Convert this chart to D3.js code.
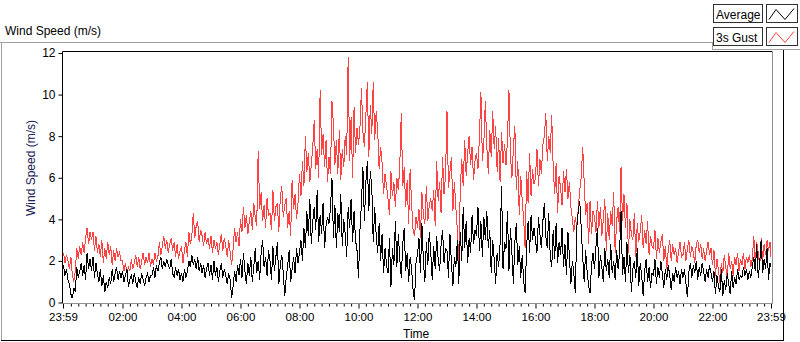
<!DOCTYPE html>
<html>
<head>
<meta charset="utf-8">
<script src="https://cdn.jsdelivr.net/npm/d3@7"></script>
<style>
  html, body { margin: 0; padding: 0; background: #fff; }
  svg text { font-family: "Liberation Sans", Arial, sans-serif; }
</style>
</head>
<body>
<div id="chart"></div>
<script>
// minutes since midnight of each sample (3 min steps, last one at 23:59)
const minutes = d3.range(0, 1440, 3).concat([1439]);

// 3s gust (m/s), one row per hour
const gust = [
  2.4, 1.9, 2.3, 2.0, 1.6, 2.2, 1.3, 1.0, 1.5, 2.6, 2.1, 2.7, 2.3, 2.9, 2.4, 3.1, 3.6, 2.8, 3.4, 3.0,
  3.4, 2.5, 3.2, 2.4, 2.8, 2.2, 3.0, 1.9, 2.6, 2.1, 2.9, 2.3, 2.7, 1.8, 2.5, 2.0, 2.6, 2.2, 2.4, 2.0,
  2.0, 1.5, 1.9, 1.4, 1.7, 1.5, 2.1, 1.6, 1.9, 2.3, 1.7, 2.2, 1.6, 2.0, 2.4, 1.8, 2.2, 1.9, 2.4, 1.7,
  2.1, 1.8, 2.4, 2.0, 2.2, 2.9, 2.3, 2.7, 3.2, 2.6, 3.0, 2.4, 2.8, 3.1, 2.5, 2.9, 2.2, 2.8, 2.1, 2.5,
  2.7, 1.9, 2.5, 2.9, 2.2, 3.4, 2.8, 3.2, 4.3, 3.1, 3.7, 3.9, 2.9, 3.5, 3.2, 2.7, 3.4, 2.8, 3.1, 2.6,
  3.2, 2.4, 3.0, 2.6, 2.9, 2.3, 2.8, 3.3, 2.5, 3.1, 2.7, 2.2, 3.0, 2.4, 1.8, 2.6, 3.6, 2.9, 3.4, 2.7,
  4.0, 3.4, 4.6, 3.6, 4.2, 3.3, 3.9, 4.4, 3.5, 4.8, 4.1, 3.7, 7.3, 4.5, 5.3, 3.9, 4.7, 3.6, 5.0, 4.2,
  4.3, 3.5, 5.4, 3.9, 4.6, 4.8, 3.4, 5.1, 5.6, 4.1, 4.7, 5.0, 3.6, 4.4, 3.2, 5.9, 4.5, 5.2, 4.0, 4.8,
  6.2, 5.1, 6.8, 5.6, 8.0, 6.3, 7.2, 5.8, 6.6, 7.5, 8.8, 6.4, 7.4, 6.0, 10.2, 7.1, 8.1, 6.5, 7.8, 5.8,
  7.0, 6.2, 9.7, 8.6, 6.6, 7.8, 6.2, 8.3, 5.9, 7.4, 6.5, 8.0, 7.1, 11.8, 6.8, 8.9, 6.0, 9.4, 7.2, 8.4,
  7.6, 8.4, 10.3, 8.2, 7.5, 9.0, 10.6, 7.0, 9.5, 8.1, 10.6, 7.8, 9.2, 8.3, 6.4, 7.5, 6.7, 5.2, 6.2, 5.6,
  5.0, 4.2, 6.3, 5.1, 5.8, 4.6, 6.0, 5.4, 6.6, 9.1, 5.6, 6.5, 4.6, 5.9, 3.8, 6.4, 4.8, 3.5, 3.2, 4.1,
  3.6, 4.5, 3.1, 5.3, 4.2, 3.8, 5.6, 3.9, 4.7, 5.0, 4.4, 5.4, 3.7, 6.8, 4.9, 5.8, 4.3, 7.0, 5.2, 6.1,
  9.2, 5.5, 6.3, 7.0, 4.4, 5.8, 4.6, 3.5, 2.0, 5.4, 6.9, 5.6, 7.8, 6.1, 7.2, 8.0, 6.6, 7.5, 5.9, 6.8,
  7.2, 6.4, 8.0, 10.1, 6.8, 7.7, 9.7, 7.5, 6.2, 8.3, 7.0, 9.2, 7.4, 8.5, 6.3, 7.9, 5.8, 8.2, 6.7, 7.6,
  6.6, 7.8, 10.2, 7.1, 6.0, 7.4, 8.5, 5.4, 6.8, 4.2, 6.1, 4.9, 4.0, 2.6, 6.3, 4.8, 7.2, 5.1, 6.4, 5.7,
  6.0, 7.4, 5.6, 6.9, 6.2, 7.6, 8.0, 9.1, 6.8, 8.0, 7.2, 9.0, 6.5, 5.2, 6.7, 4.3, 6.1, 5.5, 4.7, 6.3,
  5.3, 6.4, 5.0, 5.8, 4.6, 4.0, 3.4, 4.1, 3.6, 4.5, 5.4, 6.0, 7.5, 5.8, 4.2, 4.8, 2.8, 4.9, 3.3, 4.4,
  4.1, 3.4, 4.9, 3.6, 4.6, 3.2, 4.0, 5.0, 2.5, 4.3, 3.0, 4.4, 3.7, 5.3, 2.4, 3.9, 4.6, 3.4, 6.5, 3.9,
  5.2, 3.6, 4.8, 2.4, 4.0, 3.3, 3.0, 4.3, 2.2, 3.8, 2.9, 3.4, 4.2, 2.6, 3.5, 2.8, 3.9, 2.3, 3.2, 2.7,
  2.6, 3.5, 2.1, 3.1, 2.4, 2.9, 3.3, 2.0, 2.7, 1.6, 2.5, 3.0, 2.0, 2.8, 2.3, 2.6, 1.9, 2.4, 2.9, 2.2,
  2.3, 2.9, 2.0, 2.6, 3.0, 2.2, 2.7, 2.4, 1.9, 2.8, 3.0, 2.4, 2.8, 2.1, 2.6, 2.0, 2.5, 2.9, 2.3, 2.6,
  1.8, 2.5, 1.3, 2.1, 1.6, 0.95, 1.9, 1.4, 2.3, 1.7, 1.2, 2.4, 1.6, 2.0, 1.3, 2.2, 1.8, 2.4, 1.5, 2.1,
  1.8, 2.4, 1.6, 2.2, 1.9, 2.3, 1.7, 2.1, 3.2, 1.9, 2.9, 2.4, 1.7, 3.1, 2.0, 2.8, 2.3, 3.0, 2.5, 2.9,
  2.2
];

// average (m/s), one row per hour
const average = [
  1.8, 1.3, 1.6, 1.1, 0.9, 0.4, 0.2, 0.7, 0.5, 1.7, 1.2, 1.5, 1.9, 1.3, 1.8, 1.1, 2.4, 1.6, 2.1, 1.5,
  2.2, 1.2, 1.9, 1.4, 1.0, 1.6, 0.8, 1.3, 0.5, 1.0, 0.7, 1.2, 0.9, 1.6, 1.0, 1.4, 1.7, 1.1, 1.5, 1.2,
  1.5, 1.0, 1.3, 1.6, 0.75, 1.1, 1.3, 0.9, 1.4, 1.0, 0.7, 1.2, 0.9, 1.4, 1.1, 0.8, 1.2, 1.4, 1.0, 1.3,
  1.3, 1.7, 1.2, 1.8, 1.5, 1.9, 2.2, 1.6, 2.0, 1.7, 2.1, 1.8, 1.6, 2.1, 1.4, 1.2, 1.7, 1.3, 1.6, 1.1,
  1.4, 1.0, 1.6, 1.2, 1.5, 2.0, 1.7, 2.3, 1.8, 2.1, 1.6, 2.2, 1.5, 1.9, 1.4, 1.8, 1.2, 1.6, 1.9, 1.3,
  1.8, 1.1, 2.0, 1.3, 1.7, 1.0, 1.5, 1.9, 1.2, 1.6, 1.3, 0.9, 1.4, 1.1, 0.2, 0.8, 1.5, 1.0, 1.8, 1.3,
  2.1, 1.2, 2.4, 1.5, 0.9, 1.9, 1.3, 2.2, 1.0, 1.7, 2.6, 1.4, 2.0, 1.1, 2.4, 3.0, 1.7, 2.2, 1.3, 2.5,
  2.0, 1.1, 2.7, 1.5, 2.2, 2.9, 0.9, 1.8, 2.3, 1.4, 0.3, 1.2, 1.8, 2.5, 1.0, 1.6, 2.2, 1.4, 2.6, 1.9,
  2.4, 3.0, 2.0, 3.6, 2.6, 4.4, 3.2, 5.0, 2.8, 3.9, 4.6, 3.5, 5.4, 2.9, 4.2, 3.3, 4.8, 2.6, 3.7, 4.1,
  3.8, 4.5, 6.0, 3.1, 4.7, 2.6, 4.3, 3.4, 5.2, 2.7, 4.0, 3.3, 2.2, 4.6, 3.6, 5.0, 2.9, 4.4, 3.0, 2.5,
  1.2, 3.5, 4.8, 6.5, 3.9, 5.8, 6.8, 4.4, 6.3, 5.6, 2.9, 4.6, 3.2, 2.4, 3.8, 2.0, 3.3, 1.4, 2.6, 1.8,
  1.4, 3.1, 0.75, 2.6, 1.8, 3.9, 1.7, 3.3, 2.1, 1.2, 2.8, 3.6, 1.5, 2.4, 1.0, 2.2, 1.6, 0.6, 0.1, 1.9,
  2.3, 3.1, 1.4, 3.8, 2.0, 1.0, 2.9, 1.8, 3.4, 2.4, 1.1, 2.7, 1.6, 3.2, 2.1, 1.5, 2.8, 3.5, 1.9, 2.6,
  2.5, 1.2, 3.3, 1.9, 0.8, 2.2, 1.7, 3.0, 0.9, 3.4, 2.0, 4.6, 2.6, 3.9, 1.9, 3.1, 2.4, 4.2, 2.8, 3.5,
  3.2, 4.6, 2.5, 3.9, 2.2, 4.1, 3.0, 4.4, 2.6, 3.5, 1.4, 3.0, 2.1, 0.9, 2.4, 1.7, 2.8, 5.6, 1.6, 2.9,
  2.6, 4.4, 1.5, 3.6, 2.4, 0.9, 2.9, 3.8, 1.8, 2.7, 1.2, 2.3, 1.0, 0.45, 2.7, 3.9, 2.4, 4.2, 3.0, 3.6,
  3.0, 2.4, 4.1, 3.3, 2.6, 3.9, 4.8, 3.2, 2.6, 4.3, 2.2, 1.7, 3.5, 2.1, 3.8, 1.9, 2.9, 2.3, 3.6, 1.7,
  2.8, 1.3, 3.4, 2.2, 0.9, 2.0, 1.4, 0.45, 3.6, 4.4, 4.9, 3.6, 2.2, 1.0, 2.5, 1.5, 0.8, 0.45, 1.8, 2.4,
  1.6, 2.7, 3.6, 1.2, 2.3, 1.7, 1.0, 2.6, 1.5, 2.1, 1.2, 2.8, 1.4, 2.0, 1.1, 2.5, 1.6, 2.4, 4.4, 1.3,
  2.2, 1.0, 2.9, 1.4, 2.3, 0.5, 1.6, 2.0, 1.2, 2.6, 0.8, 1.9, 1.3, 0.3, 1.5, 2.1, 1.0, 1.7, 0.7, 1.4,
  1.3, 2.1, 0.9, 1.7, 1.2, 2.0, 1.4, 0.7, 1.6, 1.1, 1.8, 1.3, 0.6, 1.4, 1.0, 1.7, 1.2, 1.5, 0.9, 1.6,
  1.2, 1.6, 0.9, 0.25, 1.5, 1.9, 1.2, 1.8, 1.4, 2.0, 1.1, 1.7, 1.3, 1.9, 1.5, 1.0, 1.6, 1.2, 1.8, 1.4,
  1.0, 1.5, 0.4, 1.3, 0.8, 0.5, 1.6, 0.3, 1.1, 0.6, 1.4, 0.9, 0.4, 1.5, 0.7, 1.2, 0.9, 1.6, 1.1, 1.3,
  1.2, 1.7, 1.3, 1.6, 1.1, 1.5, 1.2, 1.7, 2.2, 1.5, 2.8, 1.2, 1.9, 3.0, 1.4, 2.1, 1.6, 2.6, 1.1, 1.9,
  1.7
];

const yTicks = [0, 2, 4, 6, 8, 10, 12];
const xTickMinutes = [-1, 120, 240, 360, 480, 600, 720, 840, 960, 1080, 1200, 1320, 1439];
const xTickLabels = ["23:59", "02:00", "04:00", "06:00", "08:00", "10:00", "12:00",
                     "14:00", "16:00", "18:00", "20:00", "22:00", "23:59"];
const seriesNames = ["Average", "3s Gust"];
const seriesColors = ["#000000", "#ff4242"];

const W = 800, H = 342;
const PLOT = { left: 62.5, right: 772.5, top: 51.5, bottom: 303.5 };

const svg = d3.select("#chart").append("svg")
  .attr("width", W).attr("height", H);

// outer panel frame
svg.append("line").attr("x1", 0).attr("x2", 712).attr("y1", 42.5).attr("y2", 42.5).attr("stroke", "#a0a0a0");
svg.append("line").attr("x1", 1.5).attr("x2", 1.5).attr("y1", 42.5).attr("y2", 340.5).attr("stroke", "#a0a0a0");
svg.append("line").attr("x1", 1).attr("x2", 783.5).attr("y1", 340.5).attr("y2", 340.5).attr("stroke", "#000");
svg.append("line").attr("x1", 783.5).attr("x2", 783.5).attr("y1", 49).attr("y2", 341).attr("stroke", "#000");

svg.append("text").text("Wind Speed (m/s)")
  .attr("x", 5).attr("y", 35).attr("font-size", 12).attr("fill", "#000");

// scales
const x = d3.scaleLinear().domain([-1, 1439]).range([63, 771]);
const y = d3.scaleLinear().domain([0, 12]).range([302.5, 53]);

// plot frame
svg.append("rect")
  .attr("x", PLOT.left).attr("y", PLOT.top)
  .attr("width", PLOT.right - PLOT.left).attr("height", PLOT.bottom - PLOT.top)
  .attr("fill", "#fff");

const plot = svg.append("g");
svg.append("clipPath").attr("id", "clip").append("rect")
  .attr("x", PLOT.left).attr("y", PLOT.top)
  .attr("width", PLOT.right - PLOT.left).attr("height", PLOT.bottom - PLOT.top);
plot.attr("clip-path", "url(#clip)");

const line = d3.line().x((d, i) => x(minutes[i])).y(d => y(d));

// gust first, average drawn on top (aliased like the original instrument plot)
plot.append("path").datum(gust)
  .attr("d", line).attr("fill", "none")
  .attr("stroke", seriesColors[1]).attr("stroke-width", 1)
  .attr("shape-rendering", "crispEdges");
plot.append("path").datum(average)
  .attr("d", line).attr("fill", "none")
  .attr("stroke", seriesColors[0]).attr("stroke-width", 1)
  .attr("shape-rendering", "crispEdges");

// sunken frame edges
svg.append("line").attr("x1", PLOT.left).attr("x2", PLOT.right).attr("y1", PLOT.top).attr("y2", PLOT.top).attr("stroke", "#000");
svg.append("line").attr("x1", PLOT.left).attr("x2", PLOT.left).attr("y1", PLOT.top).attr("y2", PLOT.bottom).attr("stroke", "#000");
svg.append("line").attr("x1", PLOT.right).attr("x2", PLOT.right).attr("y1", PLOT.top).attr("y2", PLOT.bottom).attr("stroke", "#909090");

// y axis
const yAxis = d3.axisLeft(y).tickValues(yTicks).tickSize(4).tickPadding(3);
const gy = svg.append("g").attr("transform", `translate(${PLOT.left},0)`).call(yAxis);
gy.select(".domain").remove();
gy.selectAll("text").attr("font-size", 12).attr("fill", "#000")
  .style("font-family", "'Liberation Sans', Arial, sans-serif");
gy.selectAll("line").attr("stroke", "#000");

svg.append("text").text("Wind Speed (m/s)")
  .attr("transform", "translate(35,168) rotate(-90)")
  .attr("text-anchor", "middle").attr("font-size", 12).attr("fill", "#202058");

// x axis: minor ticks every 15 min, labelled every 2 h
const minorTicks = d3.range(0, 1440, 15).filter(m => m % 120 !== 0);
const gxMinor = svg.append("g").attr("transform", `translate(0,${PLOT.bottom})`)
  .call(d3.axisBottom(x).tickValues(minorTicks).tickSize(3).tickFormat(""));
gxMinor.select(".domain").remove();
gxMinor.selectAll("line").attr("stroke", "#000");

const gx = svg.append("g").attr("transform", `translate(0,${PLOT.bottom})`)
  .call(d3.axisBottom(x).tickValues(xTickMinutes).tickSize(5).tickPadding(4)
    .tickFormat((d, i) => xTickLabels[i]));
gx.select(".domain").remove();
gx.selectAll("line").attr("stroke", "#000");
gx.selectAll("text").attr("font-size", 11.5).attr("fill", "#000")
  .style("font-family", "'Liberation Sans', Arial, sans-serif");

svg.append("line").attr("x1", PLOT.left).attr("x2", PLOT.right + 0.5)
  .attr("y1", PLOT.bottom).attr("y2", PLOT.bottom).attr("stroke", "#909090");

svg.append("text").text("Time").attr("x", 403).attr("y", 338)
  .attr("font-size", 12).attr("fill", "#000");

// legend panel
svg.append("line").attr("x1", 712.5).attr("x2", 712.5).attr("y1", 42).attr("y2", 49.5).attr("stroke", "#a0a0a0");
svg.append("line").attr("x1", 712).attr("x2", 800).attr("y1", 49.5).attr("y2", 49.5).attr("stroke", "#a0a0a0");

const legend = svg.append("g");
seriesNames.forEach((name, i) => {
  const top = 4.5 + i * 23;
  legend.append("rect").attr("x", 713.5).attr("y", top).attr("width", 49).attr("height", 18)
    .attr("fill", "#fff").attr("stroke", "#303030");
  legend.append("text").text(name).attr("x", 716).attr("y", top + 14)
    .attr("font-size", 12).attr("fill", "#000");
  legend.append("rect").attr("x", 766.5).attr("y", top).attr("width", 31).attr("height", 18)
    .attr("fill", "#fff").attr("stroke", "#303030");
  legend.append("path")
    .attr("d", `M${769},${top + 15} L${776},${top + 5} L${785},${top + 15} L${794},${top + 4}`)
    .attr("fill", "none").attr("stroke", seriesColors[i]).attr("stroke-width", 1);
});
</script>
</body>
</html>
